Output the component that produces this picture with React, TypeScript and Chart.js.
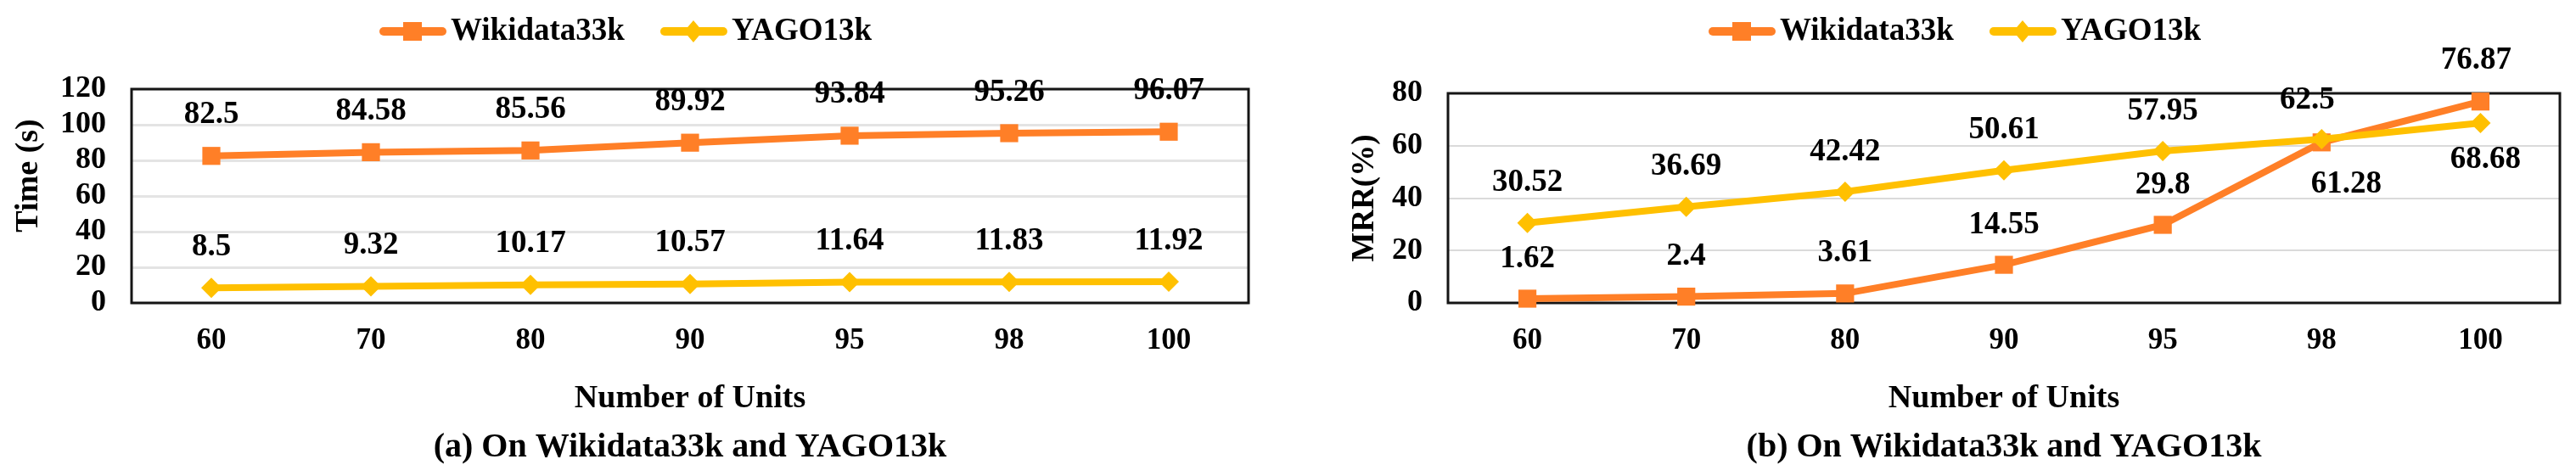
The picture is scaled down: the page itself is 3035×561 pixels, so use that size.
import React, { useEffect, useRef } from "react";
import { Chart, registerables } from "chart.js";

Chart.register(...registerables);

// ---------- data ----------
const units = ["60", "70", "80", "90", "95", "98", "100"];
const seriesNames = ["Wikidata33k", "YAGO13k"];
const timeWikidata = [82.5, 84.58, 85.56, 89.92, 93.84, 95.26, 96.07];
const timeYago = [8.5, 9.32, 10.17, 10.57, 11.64, 11.83, 11.92];
const mrrWikidata = [1.62, 2.4, 3.61, 14.55, 29.8, 61.28, 76.87];
const mrrYago = [30.52, 36.69, 42.42, 50.61, 57.95, 62.5, 68.68];
const timeTicks = [0, 20, 40, 60, 80, 100, 120];
const mrrTicks = [0, 20, 40, 60, 80];

// ---------- styles ----------
const FONT = "'Liberation Serif', 'Times New Roman', serif";
const ORANGE = "#FF7F27";
const GOLD = "#FFC000";

function drawMarker(ctx: CanvasRenderingContext2D, style: string, x: number, y: number, color: string, hw: number, hh: number) {
  ctx.fillStyle = color;
  ctx.beginPath();
  if (style === "rect") {
    ctx.rect(x - hw, y - hh, 2 * hw, 2 * hh);
  } else {
    ctx.moveTo(x, y - hh);
    ctx.lineTo(x + hw, y);
    ctx.lineTo(x, y + hh);
    ctx.lineTo(x - hw, y);
    ctx.closePath();
  }
  ctx.fill();
}

const decorPlugin = {
  id: "decor",
  beforeDatasetsDraw(chart: any) {
    const { ctx, chartArea: a } = chart;
    ctx.save();
    ctx.strokeStyle = "#151515";
    ctx.lineWidth = 3;
    ctx.strokeRect(a.left, a.top, a.right - a.left, a.bottom - a.top);
    ctx.restore();
  },
  afterDatasetsDraw(chart: any, _args: any, opts: any) {
    const ctx: CanvasRenderingContext2D = chart.ctx;
    const a = chart.chartArea;
    ctx.save();
    // data labels
    ctx.fillStyle = "#000";
    ctx.font = `bold ${opts.labelSize}px ${FONT}`;
    ctx.textAlign = "center";
    ctx.textBaseline = "middle";
    chart.data.datasets.forEach((ds: any, i: number) => {
      const meta = chart.getDatasetMeta(i);
      meta.data.forEach((pt: any, j: number) => {
        const custom = opts.labelOffsets && opts.labelOffsets[i] && opts.labelOffsets[i][j];
        const off = custom || [0, opts.labelDy];
        ctx.fillText(String(ds.data[j]), pt.x + off[0], pt.y + off[1]);
      });
    });
    // legend
    let x = opts.legendX;
    const y = opts.legendY;
    ctx.font = `bold ${opts.legendSize}px ${FONT}`;
    ctx.textAlign = "left";
    chart.data.datasets.forEach((ds: any) => {
      ctx.strokeStyle = ds.borderColor;
      ctx.lineWidth = 10;
      ctx.lineCap = "round";
      ctx.beginPath();
      ctx.moveTo(x + 5, y);
      ctx.lineTo(x + 74, y);
      ctx.stroke();
      if (ds.pointStyle === "rect") drawMarker(ctx, "rect", x + 39, y, ds.borderColor, 11, 11);
      else drawMarker(ctx, "diamond", x + 39, y, ds.borderColor, 11, 13);
      ctx.fillStyle = "#000";
      ctx.fillText(ds.label, x + 84, y);
      x += 84 + ctx.measureText(ds.label).width + 42;
    });
    // vertical title (custom position)
    if (opts.vTitle) {
      ctx.save();
      ctx.font = `bold ${opts.vTitle.size}px ${FONT}`;
      ctx.textAlign = "center";
      ctx.textBaseline = "middle";
      ctx.translate(opts.vTitle.x, opts.vTitle.y);
      ctx.rotate(-Math.PI / 2);
      ctx.fillText(opts.vTitle.text, 0, 0);
      ctx.restore();
    }
    // caption
    ctx.font = `bold ${opts.captionSize}px ${FONT}`;
    ctx.textAlign = "center";
    ctx.textBaseline = "middle";
    ctx.fillStyle = "#000";
    ctx.fillText(opts.caption, (a.left + a.right) / 2, opts.captionY);
    ctx.restore();
  },
};

function makeConfig(p: any) {
  return {
    type: "line",
    data: {
      labels: units,
      datasets: [
        {
          label: seriesNames[0],
          data: p.wiki,
          borderColor: ORANGE,
          backgroundColor: ORANGE,
          borderWidth: 8,
          pointStyle: "rect",
          pointRadius: 15,
          pointHoverRadius: 15,
          pointBackgroundColor: ORANGE,
          pointBorderWidth: 0,
          tension: 0,
          clip: false,
          order: 1,
        },
        {
          label: seriesNames[1],
          data: p.yago,
          borderColor: GOLD,
          backgroundColor: GOLD,
          borderWidth: 8,
          pointStyle: "rectRot",
          pointRadius: 12,
          pointHoverRadius: 12,
          pointBackgroundColor: GOLD,
          pointBorderWidth: 0,
          tension: 0,
          clip: false,
          order: 0,
        },
      ],
    },
    options: {
      animation: false,
      responsive: false,
      devicePixelRatio: 1,
      events: [],
      layout: { padding: { left: 0, right: p.padRight, top: p.padTop, bottom: 0 } },
      plugins: {
        legend: { display: false },
        tooltip: { enabled: false },
        decor: {
          labelSize: 37,
          labelDy: p.labelDy,
          labelOffsets: p.labelOffsets,
          legendX: p.legendX,
          legendY: 37,
          legendSize: 37,
          caption: p.caption,
          captionY: 528,
          captionSize: 40,
          vTitle: p.vTitle,
        },
      },
      scales: {
        x: {
          type: "category",
          offset: true,
          grid: { display: false, drawTicks: false },
          border: { display: false },
          ticks: { color: "#000", font: { family: FONT, size: 35, weight: "bold" }, padding: 24, maxRotation: 0, autoSkip: false },
          title: {
            display: true,
            text: "Number of Units",
            color: "#000",
            font: { family: FONT, size: 38, weight: "bold" },
            padding: { top: 0, bottom: 68 },
          },
          afterFit: (s: any) => {
            s.height = p.xHeight;
          },
        },
        y: {
          min: p.ticks[0],
          max: p.ticks[p.ticks.length - 1],
          grid: { color: p.gridColor, lineWidth: p.gridWidth, drawTicks: false },
          border: { display: false },
          ticks: {
            stepSize: p.ticks[1] - p.ticks[0],
            autoSkip: false,
            color: "#000",
            font: { family: FONT, size: 36, weight: "bold" },
            padding: 30,
          },
          afterBuildTicks: (s: any) => {
            s.ticks = p.ticks.map((v: number) => ({ value: v }));
          },
          title: p.yTitle
            ? {
                display: true,
                text: p.yTitle,
                color: "#000",
                font: { family: FONT, size: 37, weight: "bold" },
                padding: { top: p.yTitlePad, bottom: 0 },
              }
            : { display: false },
          afterFit: (s: any) => {
            s.width = p.yWidth;
          },
        },
      },
    },
    plugins: [decorPlugin],
  };
}

function Panel({ config, width, height }: { config: any; width: number; height: number }) {
  const ref = useRef<HTMLCanvasElement | null>(null);
  useEffect(() => {
    if (!ref.current) return;
    const chart = new Chart(ref.current, config);
    return () => chart.destroy();
  }, []);
  return <canvas ref={ref} width={width} height={height} style={{ display: "block", width, height }} />;
}

export default function App() {
  const leftCfg = makeConfig({
    wiki: timeWikidata,
    yago: timeYago,
    ticks: timeTicks,
    padRight: 1517 - 1471,
    padTop: 105,
    yWidth: 155,
    xHeight: 561 - 357,
    gridColor: "#E4E4E4",
    gridWidth: 3,
    labelDy: -48,
    labelOffsets: null,
    legendX: 447,
    caption: "(a) On Wikidata33k and YAGO13k",
    vTitle: { text: "Time (s)", x: 34, y: 207, size: 38 },
    yTitle: null,
  });
  const rightCfg = makeConfig({
    wiki: mrrWikidata,
    yago: mrrYago,
    ticks: mrrTicks,
    padRight: 1518 - 1499,
    padTop: 110,
    yWidth: 189,
    xHeight: 561 - 357,
    gridColor: "#DADADA",
    gridWidth: 2,
    labelDy: -47,
    labelOffsets: {
      0: { 5: [29, 50], 6: [-5, -48] },
      1: { 5: [-17, -46], 6: [6, 43] },
    },
    legendX: 2013 - 1517,
    caption: "(b) On Wikidata33k and YAGO13k",
    vTitle: null,
    yTitle: "MRR(%)",
    yTitlePad: 69,
  });
  return (
    <div style={{ position: "fixed", left: 0, top: 0, width: 3035, height: 561, background: "#fff", display: "flex" }}>
      <Panel config={leftCfg} width={1517} height={561} />
      <Panel config={rightCfg} width={1518} height={561} />
    </div>
  );
}
